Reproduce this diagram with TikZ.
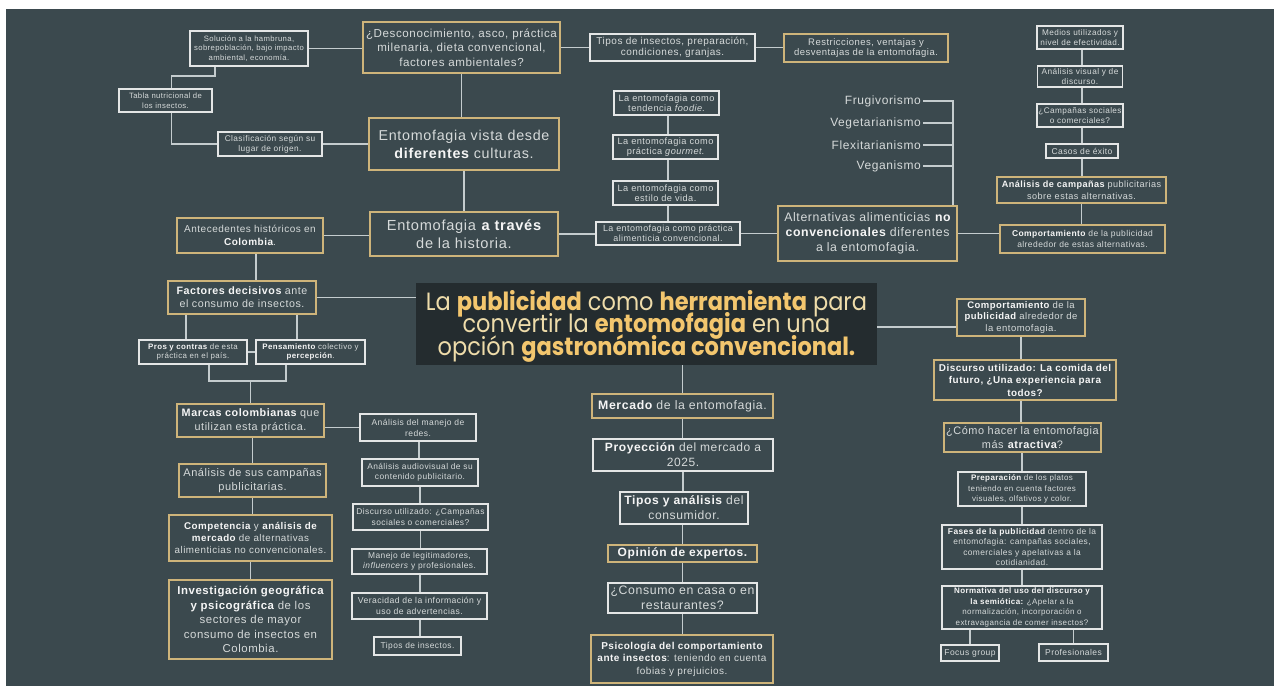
\documentclass[tikz,border=0pt]{standalone}
\usepackage{fontspec}
\setmainfont{Liberation Sans}[LetterSpace=5]
\newfontfamily\titlefont{Poppins}[FakeStretch=0.9]
\usetikzlibrary{calc}
\definecolor{bg}{RGB}{59,73,78}
\definecolor{tbg}{RGB}{36,44,47}
\definecolor{gold}{RGB}{206,180,122}
\definecolor{wb}{RGB}{228,230,230}
\definecolor{ln}{RGB}{196,204,206}
\definecolor{txt}{RGB}{214,218,218}
\definecolor{txtb}{RGB}{245,245,245}
\definecolor{tcream}{RGB}{238,220,170}
\definecolor{tgold}{RGB}{243,198,110}
\newcommand\myfs[2]{\fontsize{#1}{#2}\selectfont}
\newcommand\bt[1]{\textbf{\color{txtb}#1}}
\newcommand\tg[1]{\textbf{\color{tgold}#1}}
\newcommand\titlefs{\titlefont\fontsize{25}{22.5}\selectfont\setlength{\lineskiplimit}{-30pt}\setlength{\lineskip}{0pt}}
\tikzset{
  box/.style={line width=1.8pt, fill=bg, text=txt, align=center, inner sep=1pt},
  wbox/.style={box, draw=wb},
  gbox/.style={box, draw=gold},
  conn/.style={draw=ln, line width=1.6pt},
  plain/.style={text=txt, inner sep=2pt, anchor=east},
}
\begin{document}
\begin{tikzpicture}[x=1pt,y=-1pt]
\useasboundingbox (0,0) rectangle (1274,696);
\fill[white] (0,0) rectangle (1274,696);
\fill[bg] (6,9) rectangle (1274,686);

% left top cluster
\node[wbox, minimum width=118, minimum height=35, font=\myfs{7.7}{9.7}] (sol) at (249,48.5) {Solución a la hambruna,\\sobrepoblación, bajo impacto\\ambiental, economía.};
\node[wbox, minimum width=93, minimum height=23, font=\myfs{7.7}{9.7}] (tabla) at (165.5,100.5) {Tabla nutricional de\\los insectos.};
\node[wbox, minimum width=104, minimum height=24, font=\myfs{8.3}{10}] (clas) at (270,144) {Clasificación según su\\lugar de origen.};
\node[gbox, minimum width=197, minimum height=51, font=\myfs{11.6}{14.5}] (desc) at (461.5,47.5) {¿Desconocimiento, asco, práctica\\milenaria, dieta convencional,\\factores ambientales?};
\node[gbox, minimum width=190, minimum height=52, font=\myfs{14.3}{18}] (vista) at (464,144) {Entomofagia vista desde\\\bt{diferentes} culturas.};
\node[gbox, minimum width=188, minimum height=44, font=\myfs{14.6}{18}] (trav) at (464,234) {Entomofagia \bt{a través}\\de la historia.};
\node[gbox, minimum width=146, minimum height=35, font=\myfs{10}{13.5}] (ante) at (250,235.5) {Antecedentes históricos en\\\bt{Colombia}.};

% left column
\node[gbox, minimum width=148, minimum height=33, font=\myfs{10.7}{13.3}] (fact) at (242,297.5) {\bt{Factores decisivos} ante\\el consumo de insectos.};
\node[wbox, minimum width=108, minimum height=24, font=\myfs{7.9}{9.7}] (pros) at (193,352) {\bt{Pros y contras} de esta\\práctica en el país.};
\node[wbox, minimum width=109, minimum height=24, font=\myfs{7.9}{9.7}] (pens) at (310.5,352) {\bt{Pensamiento} colectivo y\\\bt{percepción}.};
\node[gbox, minimum width=147, minimum height=33, font=\myfs{10.8}{13.7}] (marcas) at (250.5,420.5) {\bt{Marcas colombianas} que\\utilizan esta práctica.};
\node[gbox, minimum width=147, minimum height=33, font=\myfs{11}{14}] (analsus) at (252.5,480.5) {Análisis de sus campañas\\publicitarias.};
\node[gbox, minimum width=163, minimum height=46, font=\myfs{9.8}{12}] (comp) at (250.5,538) {\bt{Competencia} y \bt{análisis de}\\\bt{mercado} de alternativas\\alimenticias no convencionales.};
\node[gbox, minimum width=163, minimum height=79, font=\myfs{11.4}{14.4}] (inv) at (250.5,619.5) {\bt{Investigación geográfica}\\\bt{y psicográfica} de los\\sectores de mayor\\consumo de insectos en\\Colombia.};

% second column
\node[wbox, minimum width=116, minimum height=27, font=\myfs{8.5}{11}] (redes) at (418,427.5) {Análisis del manejo de\\redes.};
\node[wbox, minimum width=116, minimum height=27, font=\myfs{8.4}{10.5}] (audio) at (420,472.5) {Análisis audiovisual de su\\contenido publicitario.};
\node[wbox, minimum width=135, minimum height=26, font=\myfs{8.4}{10.3}] (discc) at (420.5,517) {Discurso utilizado: ¿Campañas\\sociales o comerciales?};
\node[wbox, minimum width=135, minimum height=25, font=\myfs{8.4}{10.3}] (manejo) at (419.5,561.5) {Manejo de legitimadores,\\\textit{influencers} y profesionales.};
\node[wbox, minimum width=135, minimum height=26, font=\myfs{8.6}{10.3}] (verac) at (419.5,606) {Veracidad de la información y\\uso de advertencias.};
\node[wbox, minimum width=87, minimum height=18, font=\myfs{8.4}{10.3}] (tiposins) at (417.5,646) {Tipos de insectos.};

% top middle
\node[wbox, minimum width=165, minimum height=27, font=\myfs{10}{10.5}] (tipos) at (672.5,47.5) {Tipos de insectos, preparación,\\condiciones, granjas.};
\node[gbox, minimum width=164, minimum height=28, font=\myfs{9.5}{10.5}] (restr) at (866,48) {Restricciones, ventajas y\\desventajas de la entomofagia.};
\node[wbox, minimum width=105, minimum height=24, font=\myfs{9.2}{10}] (foodie) at (666.5,103) {La entomofagia como\\tendencia \textit{foodie}.};
\node[wbox, minimum width=105, minimum height=24, font=\myfs{9.2}{10}] (gourmet) at (665.5,147) {La entomofagia como\\práctica \textit{gourmet}.};
\node[wbox, minimum width=105, minimum height=24, font=\myfs{9.2}{10}] (estilo) at (665.5,193) {La entomofagia como\\estilo de vida.};
\node[wbox, minimum width=144, minimum height=23, font=\myfs{8.9}{10}] (conv) at (668,233.5) {La entomofagia como práctica\\alimenticia convencional.};

% diets
\node[plain, font=\myfs{12}{14}] (fru) at (923,101) {Frugivorismo};
\node[plain, font=\myfs{12}{14}] (veget) at (923,123) {Vegetarianismo};
\node[plain, font=\myfs{12}{14}] (flex) at (923,145) {Flexitarianismo};
\node[plain, font=\myfs{12}{14}] (vegan) at (923,166) {Veganismo};
\node[gbox, minimum width=179, minimum height=55, font=\myfs{12.3}{15}] (alt) at (867.5,233.5) {Alternativas alimenticias \bt{no}\\\bt{convencionales} diferentes\\a la entomofagia.};

% right top column
\node[wbox, minimum width=86, minimum height=23, font=\myfs{8.2}{9.3}] (medios) at (1080,37.5) {Medios utilizados y\\nivel de efectividad.};
\node[wbox, minimum width=85, minimum height=21, font=\myfs{8.3}{9.3}] (visual) at (1080,76.5) {Análisis visual y de\\discurso.};
\node[wbox, minimum width=86, minimum height=23, font=\myfs{8.2}{9.3}] (campsoc) at (1080,115.5) {¿Campañas sociales\\o comerciales?};
\node[wbox, minimum width=72, minimum height=14, font=\myfs{8.5}{10}] (casos) at (1082,151) {Casos de éxito};
\node[gbox, minimum width=169, minimum height=26, font=\myfs{9.1}{12}] (analcamp) at (1081.5,190) {\bt{Análisis de campañas} publicitarias\\sobre estas alternativas.};
\node[gbox, minimum width=165, minimum height=28, font=\myfs{8.5}{10.5}] (compalt) at (1082.5,239) {\bt{Comportamiento} de la publicidad\\alrededor de estas alternativas.};

% title
\node[fill=tbg, minimum width=461, minimum height=82, inner sep=0pt, align=center, text=tcream, font=\titlefs] (title) at (646.5,324) {\rule{0pt}{24pt}La \tg{publicidad} como \tg{herramienta} para\\convertir la \tg{entomofagia} en una\\opción \tg{gastronómica convencional.}};

% right bottom column
\node[gbox, minimum width=128, minimum height=37, font=\myfs{9.5}{11.7}] (compent) at (1021,317.5) {\bt{Comportamiento} de la\\\bt{publicidad} alrededor de\\la entomofagia.};
\node[gbox, minimum width=182, minimum height=40, font=\myfs{9.9}{12.5}] (disco) at (1025,380) {\bt{Discurso utilizado: La comida del}\\\bt{futuro, ¿Una experiencia para}\\\bt{todos?}};
\node[gbox, minimum width=157, minimum height=29, font=\myfs{10.9}{13.3}] (como) at (1022.5,437.5) {¿Cómo hacer la entomofagia\\más \bt{atractiva}?};
\node[wbox, minimum width=128, minimum height=34, font=\myfs{8}{10.3}] (prep) at (1022,489) {\bt{Preparación} de los platos\\teniendo en cuenta factores\\visuales, olfativos y color.};
\node[wbox, minimum width=160, minimum height=44, font=\myfs{8.4}{10.5}] (fases) at (1022,547) {\bt{Fases de la publicidad} dentro de la\\entomofagia: campañas sociales,\\comerciales y apelativas a la\\cotidianidad.};
\node[wbox, minimum width=160, minimum height=43, font=\myfs{8}{10.5}] (norm) at (1022,607.5) {\bt{Normativa del uso del discurso y}\\\bt{la semiótica:} ¿Apelar a la\\normalización, incorporación o\\extravagancia de comer insectos?};
\node[wbox, minimum width=58, minimum height=16, font=\myfs{8.5}{10}] (focus) at (970,653) {Focus group};
\node[wbox, minimum width=69, minimum height=17, font=\myfs{8.5}{10}] (prof) at (1073.5,652.5) {Profesionales};

% center column
\node[gbox, minimum width=181, minimum height=24, font=\myfs{12.3}{13}] (merc) at (682.5,406) {\bt{Mercado} de la entomofagia.};
\node[wbox, minimum width=180, minimum height=32, font=\myfs{12}{15}] (proy) at (683,455) {\bt{Proyección} del mercado a\\2025.};
\node[wbox, minimum width=128, minimum height=32, font=\myfs{12.1}{15}] (tcons) at (684,508) {\bt{Tipos y análisis} del\\consumidor.};
\node[gbox, minimum width=149, minimum height=17, font=\myfs{12}{14}] (opin) at (682.5,553.5) {\bt{Opinión de expertos.}};
\node[wbox, minimum width=149, minimum height=30, font=\myfs{12.3}{15}] (cons) at (682.5,598) {¿Consumo en casa o en\\restaurantes?};
\node[gbox, minimum width=182, minimum height=48, font=\myfs{10}{12.5}] (psico) at (682,659) {\bt{Psicología del comportamiento}\\\bt{ante insectos}: teniendo en cuenta\\fobias y prejuicios.};

% connectors
\draw[conn] ([xshift=-34]sol.south) -- ++(0,9) -| ([xshift=6]tabla.north);
\draw[conn] ([xshift=6]tabla.south) |- (clas.west);
\draw[conn] (sol.east) -- (sol.east -| desc.west);
\draw[conn] (clas.east) -- (clas.east -| vista.west);
\draw[conn] (desc.east) -- (desc.east -| tipos.west);
\draw[conn] (tipos.east) -- (tipos.east -| restr.west);
\draw[conn] (desc.south) -- (desc.south |- vista.north);
\draw[conn] (vista.south) -- (vista.south |- trav.north);
\draw[conn] (ante.east) -- (ante.east -| trav.west);
\draw[conn] (trav.east) -- (trav.east -| conv.west);
\draw[conn] ([xshift=1.5]foodie.south) -- ([xshift=1.5]foodie.south |- gourmet.north);
\draw[conn] ([xshift=2.5]gourmet.south) -- ([xshift=2.5]gourmet.south |- estilo.north);
\draw[conn] ([xshift=2.5]estilo.south) -- ([xshift=2.5]estilo.south |- conv.north);
\draw[conn] (conv.east) -- (conv.east -| alt.west);
\coordinate (vt) at (953,101);
\draw[conn] (fru.east) -- (vt) -- (vt |- alt.north);
\draw[conn] (veget.east) -- (veget.east -| vt);
\draw[conn] (flex.east) -- (flex.east -| vt);
\draw[conn] (vegan.east) -- (vegan.east -| vt);
\draw[conn] (alt.east) -- (alt.east -| compalt.west);
\draw[conn] ([xshift=2]medios.south) -- ([xshift=2]medios.south |- visual.north);
\draw[conn] ([xshift=2]visual.south) -- ([xshift=2]visual.south |- campsoc.north);
\draw[conn] ([xshift=2]campsoc.south) -- ([xshift=2]campsoc.south |- casos.north);
\draw[conn] (casos.south) -- (casos.south |- analcamp.north);
\draw[conn] (analcamp.south) -- (analcamp.south |- compalt.north);
\draw[conn] ([xshift=6]ante.south) -- ([xshift=6]ante.south |- fact.north);
\draw[conn] (fact.east) -- (fact.east -| title.west);
\draw[conn] ([xshift=-56]fact.south) -- ([xshift=-56]fact.south |- pros.north);
\draw[conn] ([xshift=55]fact.south) -- ([xshift=55]fact.south |- pens.north);
\draw[conn] (pros.east) -- (pens.west);
\draw[conn] ([xshift=16]pros.south) -- ++(0,16) -| ([xshift=-24.5]pens.south);
\draw[conn] (marcas.north) -- ++(0,-22);
\draw[conn] ([xshift=2]marcas.south) -- ([xshift=2]marcas.south |- analsus.north);
\draw[conn] (analsus.south) -- (analsus.south |- comp.north);
\draw[conn] (comp.south) -- (comp.south |- inv.north);
\draw[conn] (redes.west -| marcas.east) -- (redes.west);
\draw[conn] ([xshift=1]redes.south) -- ([xshift=1]redes.south |- audio.north);
\draw[conn] (audio.south) -- (audio.south |- discc.north);
\draw[conn] (discc.south) -- (discc.south |- manejo.north);
\draw[conn] ([xshift=0.5]manejo.south) -- ([xshift=0.5]manejo.south |- verac.north);
\draw[conn] ([xshift=0.5]verac.south) -- ([xshift=0.5]verac.south |- tiposins.north);
\draw[conn] (merc.north |- title.south) -- (merc.north);
\draw[conn] (merc.south) -- (merc.south |- proy.north);
\draw[conn] (proy.south) -- (proy.south |- tcons.north);
\draw[conn] ([xshift=-1.5]tcons.south) -- ([xshift=-1.5]tcons.south |- opin.north);
\draw[conn] (opin.south) -- (opin.south |- cons.north);
\draw[conn] (cons.south) -- (cons.south |- psico.north);
\draw[conn] ([yshift=-3]title.east) -- ([yshift=-3]title.east -| compent.west);
\draw[conn] (compent.south) -- (compent.south |- disco.north);
\draw[conn] (compent.south |- disco.south) -- (compent.south |- como.north);
\draw[conn] (prep.north |- como.south) -- (prep.north);
\draw[conn] (prep.south) -- (prep.south |- fases.north);
\draw[conn] (fases.south) -- (fases.south |- norm.north);
\draw[conn] (focus.north |- norm.south) -- (focus.north);
\draw[conn] (prof.north |- norm.south) -- (prof.north);
\end{tikzpicture}
\end{document}
